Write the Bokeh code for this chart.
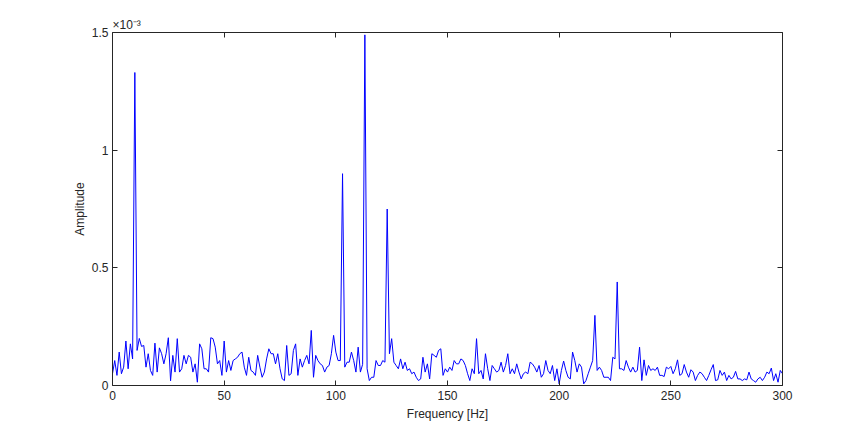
from bokeh.plotting import figure
from bokeh.models import LinearAxis, Range1d, FixedTicker, Title
from bokeh.embed import file_html
from bokeh.resources import INLINE

# Amplitude spectrum, values in units of 1e-4, one per Hz (0..300 Hz)
amp_0_47 = [0.5, 1.06, 0.43, 1.42, 0.5, 0.78, 1.89, 0.71, 1.77, 1.13,
            13.3, 1.49, 2.0, 1.66, 1.7, 0.78, 1.35, 0.64, 0.43, 1.8,
            0.57, 1.6, 1.35, 0.92, 1.35, 2.03, 0.2, 1.28, 0.57, 1.99,
            0.57, 0.71, 1.28, 0.92, 1.28, 1.2, 0.57, 0.92, 0.14, 1.77,
            1.56, 0.71, 0.71, 0.57, 2.03, 1.99, 1.63, 0.92]
amp_48_97 = [1.06, 0.43, 1.89, 0.57, 1.06, 0.64, 1.06, 1.13, 1.2, 1.35,
             1.42, 0.78, 0.43, 1.2, 0.64, 0.57, 0.43, 1.28, 0.78, 0.35,
             0.57, 1.13, 1.56, 1.35, 1.35, 0.92, 1.35, 0.71, 0.28, 0.21,
             1.7, 0.43, 0.5, 1.49, 1.77, 0.43, 1.13, 0.78, 1.06, 1.28,
             0.92, 2.34, 0.35, 1.28, 1.06, 0.92, 0.85, 0.57, 0.78, 0.85]
amp_98_146 = [1.35, 2.13, 1.42, 1.06, 1.06, 9.0, 0.78, 0.99, 0.99, 1.42,
              1.06, 0.57, 1.63, 0.57, 0.9, 14.9, 0.71, 0.21, 0.35, 0.35,
              1.06, 0.85, 0.85, 1.06, 0.99, 7.5, 1.35, 1.99, 0.99, 0.85,
              0.71, 1.13, 0.71, 0.99, 0.64, 0.71, 0.5, 0.57, 0.35, 0.21,
              0.28, 1.2, 0.57, 0.92, 0.28, 1.35, 1.28, 1.2, 1.49]
amp_147_195 = [1.56, 0.43, 0.71, 0.57, 0.78, 0.64, 1.06, 0.92, 0.92, 1.13,
               1.06, 0.85, 0.5, 0.21, 0.71, 0.5, 1.99, 0.5, 0.64, 0.28,
               1.35, 0.71, 0.21, 0.85, 0.71, 0.57, 0.64, 0.99, 0.57, 0.85,
               1.35, 0.5, 0.71, 0.5, 0.92, 0.57, 0.28, 0.5, 0.57, 0.5,
               0.99, 0.92, 0.78, 0.57, 0.85, 0.35, 0.5, 1.06, 0.64]
amp_196_242 = [0.5, 0.85, 0.21, 0.71, 0.07, 0.64, 1.04, 0.64, 0.35, 0.28,
               1.42, 1.06, 0.57, 0.92, 0.78, 0.07, 0.21, 0.5, 0.78, 1.06,
               2.98, 0.64, 0.78, 0.64, 0.35, 0.35, 0.35, 0.21, 1.2, 1.13,
               4.4, 0.71, 0.71, 0.64, 1.06, 0.78, 0.57, 0.78, 0.57, 0.64,
               1.63, 0.21, 1.09, 0.43, 0.85, 0.64, 0.71]
amp_243_300 = [0.64, 0.78, 0.43, 0.43, 0.38, 0.78, 0.71, 0.81, 0.5, 0.71,
               1.09, 0.43, 0.5, 0.89, 0.57, 0.35, 0.67, 0.57, 0.21, 0.43,
               0.57, 0.5, 0.35, 0.21, 0.43, 0.67, 0.89, 0.21, 0.24, 0.64,
               0.43, 0.57, 0.21, 0.43, 0.28, 0.35, 0.6, 0.28, 0.28, 0.21,
               0.28, 0.24, 0.57, 0.28, 0.21, 0.14, 0.28, 0.35, 0.21, 0.35,
               0.57, 0.5, 0.74, 0.21, 0.5, 0.14, 0.64, 0.5]

amp_e4 = amp_0_47 + amp_48_97 + amp_98_146 + amp_147_195 + amp_196_242 + amp_243_300
freq = list(range(len(amp_e4)))
amp_e3 = [v / 10.0 for v in amp_e4]  # displayed in units of 1e-3

x_ticks = [0, 50, 100, 150, 200, 250, 300]
y_ticks = [0, 0.5, 1, 1.5]
y_tick_labels = ["0", "0.5", "1", "1.5"]
exponent_text = "×10⁻³"

FONT = "Liberation Sans"
AX = "#262626"

W, H = 857, 424
BL, BR, BT, BB = 112, 75, 32, 39

p = figure(width=W, height=H, output_backend="svg", toolbar_location=None,
           x_range=Range1d(0, 300), y_range=Range1d(0, 1.5),
           min_border_left=BL, min_border_right=BR, min_border_top=BT,
           min_border_bottom=BB, background_fill_color="white",
           border_fill_color="white", outline_line_color=None)
p.xgrid.visible = False
p.ygrid.visible = False

p.line(freq, amp_e3, line_color="#0000ff", line_width=1)


def style(ax, labels=True):
    ax.axis_line_color = AX
    ax.major_tick_line_color = AX
    ax.major_tick_in = 5
    ax.major_tick_out = 0
    ax.minor_tick_line_color = None
    ax.major_label_text_font = FONT
    ax.major_label_text_font_size = "12px"
    ax.major_label_text_color = AX
    ax.axis_label_text_font = FONT
    ax.axis_label_text_font_size = "12px"
    ax.axis_label_text_font_style = "normal"
    ax.axis_label_text_color = AX
    if not labels:
        ax.major_label_text_font_size = "0px"
        ax.major_label_text_color = None
        ax.major_label_standoff = 0


xa = p.xaxis[0]
xa.ticker = FixedTicker(ticks=x_ticks)
xa.axis_label = "Frequency [Hz]"
xa.axis_label_standoff = 4
xa.major_label_standoff = 5
style(xa)

ya = p.yaxis[0]
ya.ticker = FixedTicker(ticks=y_ticks)
ya.major_label_overrides = {t: s for t, s in zip(y_ticks, y_tick_labels)}
ya.axis_label = "Amplitude"
ya.axis_label_standoff = 2
ya.major_label_standoff = 4
style(ya)

top = LinearAxis(ticker=FixedTicker(ticks=x_ticks))
style(top, labels=False)
p.add_layout(top, "above")
right = LinearAxis(ticker=FixedTicker(ticks=y_ticks))
style(right, labels=False)
p.add_layout(right, "right")

p.add_layout(Title(text=exponent_text, align="left", offset=0, standoff=1,
                   text_font=FONT, text_font_size="12px",
                   text_font_style="normal", text_color=AX), "above")

open("out.html", "w").write(file_html(p, INLINE))
